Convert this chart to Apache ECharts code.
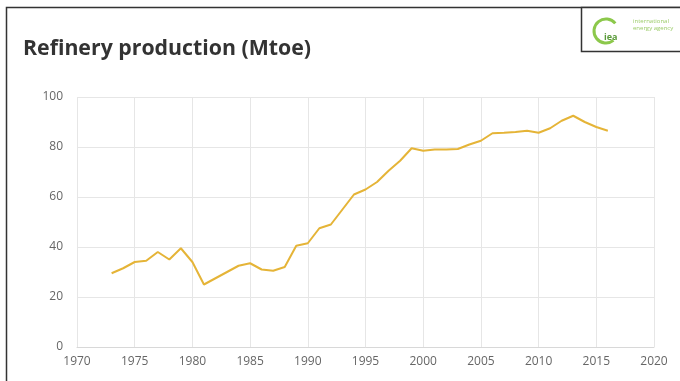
<!DOCTYPE html>
<html>
<head>
<meta charset="utf-8">
<script src="https://cdn.jsdelivr.net/npm/echarts@6/dist/echarts.min.js"></script>
<style>
html,body{margin:0;padding:0;background:#fff;}
#chart{width:680px;height:381px;}
</style>
</head>
<body>
<div id="chart"></div>
<script>
var years = [1973,1974,1975,1976,1977,1978,1979,1980,1981,1982,1983,1984,1985,1986,1987,1988,1989,1990,1991,1992,1993,1994,1995,1996,1997,1998,1999,2000,2001,2002,2003,2004,2005,2006,2007,2008,2009,2010,2011,2012,2013,2014,2015,2016];
var production = [29.5,31.5,34,34.5,38,35,39.5,34,25,27.5,30,32.5,33.5,31,30.5,32,40.5,41.5,47.5,49,55,61,63,66,70.5,74.5,79.5,78.5,79,79,79.2,81,82.5,85.5,85.7,86,86.5,85.7,87.5,90.5,92.5,90,88,86.5];
var titleText = 'Refinery production (Mtoe)';

var chart = echarts.init(document.getElementById('chart'));
var seriesData = years.map(function(y, i){ return [y, production[i]]; });
chart.setOption({
  animation: false,
  backgroundColor: '#fff',
  title: {
    text: titleText,
    left: 18, top: 33,
    textStyle: {fontFamily: 'Open Sans', fontSize: 21.3, fontWeight: 'bold', color: '#333'}
  },
  grid: {left: 77, right: 26, top: 97, bottom: 34},
  xAxis: {
    type: 'value', min: 1970, max: 2020, interval: 5,
    axisLine: {show: true, lineStyle: {color: '#d8d8d8'}},
    axisTick: {show: false},
    axisLabel: {color: '#666', fontFamily: 'Open Sans', fontSize: 12, margin: 9, formatter: function(v){return String(v);}},
    splitLine: {show: true, lineStyle: {color: '#e6e6e6'}}
  },
  yAxis: {
    type: 'value', min: 0, max: 100, interval: 20,
    axisLine: {show: false},
    axisTick: {show: false},
    axisLabel: {color: '#666', fontFamily: 'Open Sans', fontSize: 12, margin: 14},
    splitLine: {show: true, lineStyle: {color: '#e6e6e6'}}
  },
  series: [{
    type: 'line',
    data: seriesData,
    showSymbol: false,
    lineStyle: {color: '#e5b437', width: 2},
    itemStyle: {color: '#e5b437'}
  }],
  graphic: [
    {type: 'rect', shape: {x: 6.5, y: 7.5, width: 700, height: 400}, style: {fill: 'none', stroke: '#333', lineWidth: 1.5}, silent: true},
    {type: 'rect', shape: {x: 581.5, y: 7.5, width: 120, height: 44}, style: {fill: '#fff', stroke: '#333', lineWidth: 1.5}, silent: true},
    {type: 'arc', shape: {cx: 606, cy: 31, r: 12, startAngle: 0.9, endAngle: 5.6}, style: {stroke: '#8cc84b', lineWidth: 3, fill: 'none'}, silent: true},
    {type: 'text', style: {x: 604, y: 33, text: 'iea', fill: '#5a9a3a', font: 'bold 9px "Open Sans"'}, silent: true},
    {type: 'text', style: {x: 633, y: 18, text: 'international', fill: '#9ccc6a', font: '6px "Open Sans"'}, silent: true},
    {type: 'text', style: {x: 633, y: 25, text: 'energy agency', fill: '#9ccc6a', font: '6px "Open Sans"'}, silent: true}
  ]
});
</script>
</body>
</html>
